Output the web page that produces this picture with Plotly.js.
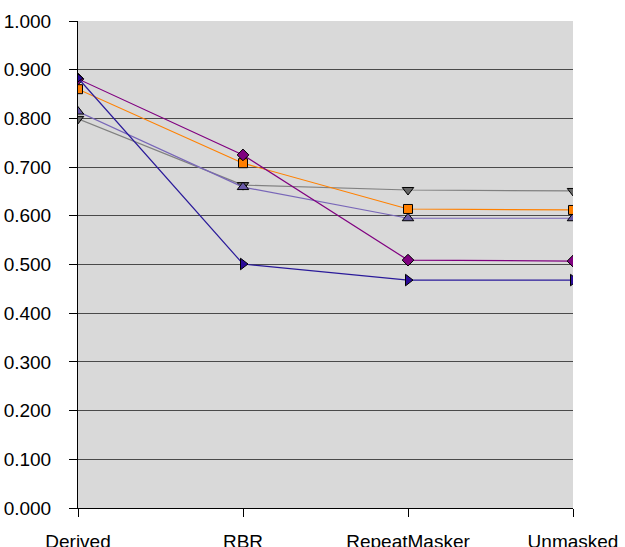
<!DOCTYPE html>
<html>
<head>
<meta charset="utf-8">
<script src="https://cdn.plot.ly/plotly-3.0.1.min.js"></script>
<style>html,body{margin:0;padding:0;background:#fff;}#chart{width:625px;height:547px;}</style>
</head>
<body>
<div id="chart"></div>
<script>
var categories = ["Derived", "RBR", "RepeatMasker", "Unmasked"];
var seriesPurple = [0.881, 0.725, 0.509, 0.507];
var seriesOrange = [0.860, 0.708, 0.614, 0.612];
var seriesGray = [0.799, 0.663, 0.653, 0.651];
var seriesSlate = [0.814, 0.659, 0.595, 0.595];
var seriesBlue = [0.883, 0.501, 0.468, 0.468];
var yTickVals = [0, 0.1, 0.2, 0.3, 0.4, 0.5, 0.6, 0.7, 0.8, 0.9, 1.0];

function mk(y, lineColor, sym, fill, size) {
  return {
    x: categories, y: y, type: 'scatter', mode: 'lines+markers',
    line: {color: lineColor, width: 1.2},
    marker: {symbol: sym, color: fill, size: size, line: {color: '#000', width: 1}},
    showlegend: false, hoverinfo: 'skip'
  };
}

var data = [
  mk(seriesGray, '#808080', 'triangle-down', '#666666', 10),
  mk(seriesSlate, '#7866b8', 'triangle-up', '#6a5aa8', 10),
  mk(seriesOrange, '#ff8000', 'square', '#ff7f00', 9),
  mk(seriesPurple, '#800080', 'diamond', '#800080', 9),
  mk(seriesBlue, '#2a1a9a', 'triangle-right', '#2a0a99', 10)
];

var layout = {
  width: 625, height: 547,
  margin: {l: 78, r: 52, t: 21, b: 39},
  paper_bgcolor: '#ffffff',
  plot_bgcolor: '#d9d9d9',
  font: {family: 'Liberation Sans, Arial, sans-serif', size: 19, color: '#000'},
  xaxis: {
    type: 'category', range: [0, 3], showgrid: false, zeroline: false,
    showline: true, linecolor: '#000', linewidth: 1,
    ticks: 'outside', ticklen: 8, tickcolor: '#000', tickwidth: 1,
    ticklabelstandoff: 8,
    tickfont: {size: 19}
  },
  yaxis: {
    range: [0, 1], tickvals: yTickVals, tickformat: '.3f',
    showgrid: true, gridcolor: '#4a4a4a', gridwidth: 1, zeroline: false,
    showline: true, linecolor: '#000', linewidth: 1,
    ticks: 'outside', ticklen: 8, tickcolor: '#000', tickwidth: 1,
    ticklabelstandoff: 14,
    tickfont: {size: 19}
  }
};

Plotly.newPlot('chart', data, layout, {displayModeBar: false, staticPlot: true});
</script>
</body>
</html>
